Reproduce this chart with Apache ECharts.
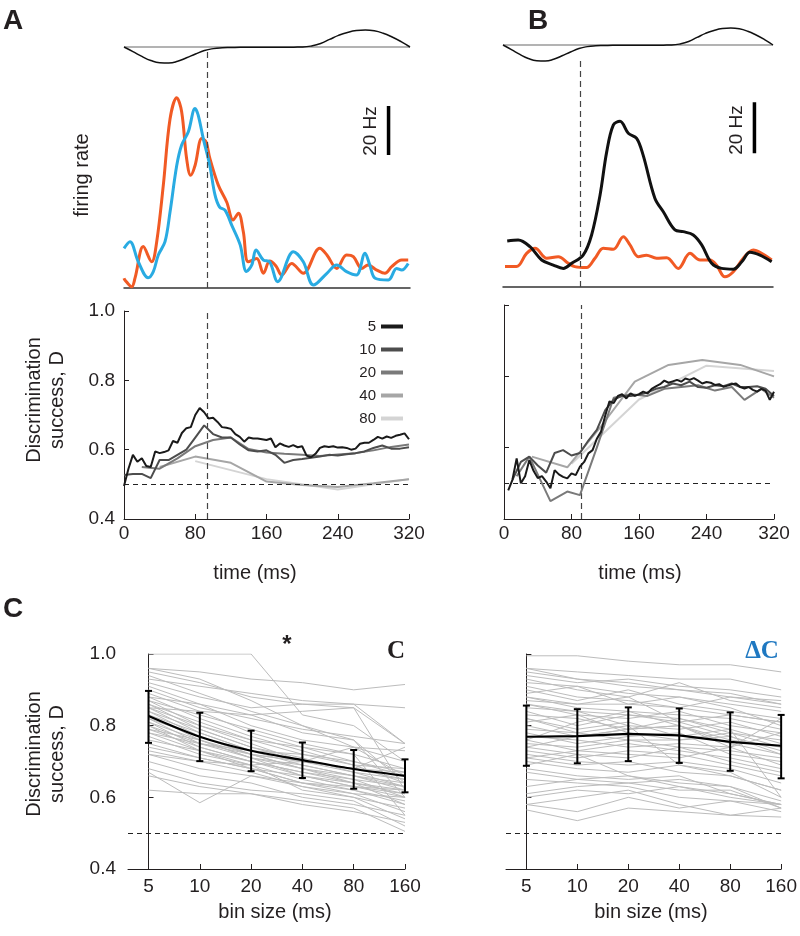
<!DOCTYPE html>
<html><head><meta charset="utf-8">
<script src="https://cdn.jsdelivr.net/npm/echarts@6/dist/echarts.min.js"></script>
<style>html,body{margin:0;padding:0;background:#fff}#c{width:800px;height:936px}</style>
</head><body><div id="c"></div>
<script>
const FONT = '"Liberation Sans", Arial, Helvetica, sans-serif';
const timeMin = 0, timeMax = 320, timeStep = 80;
const dMin = 0.4, dMax = 1.0, dStep = 0.2;
const chance = 0.5;
const onsetA = 93, onsetB = 92;

// stimulus (t every 10 ms, arbitrary units)
const stimT = [0,10,20,30,40,50,60,70,80,90,100,110,120,130,140,150,160,170,180,190,200,210,220,230,240,250,260,270,280,290,300,310,320];
const stimV = [0,-0.17,-0.35,-0.5,-0.58,-0.59,-0.53,-0.4,-0.26,-0.13,-0.06,-0.03,-0.02,-0.01,-0.01,-0.01,-0.01,-0.01,-0.01,-0.005,0,0.04,0.13,0.28,0.43,0.54,0.61,0.63,0.6,0.51,0.37,0.2,0];

// firing rates [time ms, Hz]
const aOrange = [[0,4],[1,3.3],[8.6,0.5],[12.3,4],[21.6,16.9],[31,10.7],[36.6,18.9],[44,42],[51.5,69],[59,77.7],[64.5,72],[70,53],[74.6,46],[79.5,50],[87,61],[91.8,59.7],[96,53],[105.5,42],[115,35],[122,27.8],[128,30.5],[133.5,23],[139,10.7],[148.5,12],[156,6],[163,11],[170,9],[176.5,5.3],[187.6,10],[200.6,6],[219,16.2],[227,13.5],[238,8],[249,13.5],[256.6,12.8],[266,8],[273,9.4],[282.8,7.3],[292,6],[299.5,8.7],[310.7,11.4],[318,11.4]];
const aBlue = [[0,16.2],[6.7,18.9],[16,10.7],[27,4.2],[32.8,6.7],[38.4,13.5],[45.9,18.9],[51.5,31],[59,50],[64.5,58.4],[72,63.8],[79.5,73.3],[83,70.6],[88.7,61],[96,50],[101.8,38],[107,33],[113,31.8],[120.5,25.7],[130,17.6],[137,6.7],[143,9.4],[147.7,15.5],[156,11.4],[163,10.7],[172,2.6],[189.5,14.8],[200.6,10.7],[212,1.2],[227,6],[238,9.4],[249,6.7],[260,5.3],[269.7,14.2],[275,9.4],[281,4],[295.8,3.3],[305,8],[310.7,7.3],[318,10]];
const bBlack = [[5,18],[18,18.4],[32,15.8],[45.8,10.6],[59.6,8.6],[71.5,7.3],[81.4,9.3],[95,12.5],[105,20.4],[115,36],[122.9,53],[130.7,63.5],[138.7,65],[148.5,60.3],[158.4,58.3],[166,51.8],[180,34.8],[190,29.5],[203.8,22.4],[213.7,21.7],[225.5,20.4],[235.5,16.5],[247.3,9.3],[259,7.3],[273,7],[283,9.9],[292.7,13.6],[304.6,12.5],[318.4,9.9]];
const bOrange = [[2.4,8],[16,8],[28,13.2],[38,15.2],[51.8,11.3],[65.5,11.9],[77.4,9.3],[85,8],[99,7.6],[109,11.3],[118.9,15.2],[130.7,14.8],[142.6,19.7],[150.5,16.5],[160.4,11.9],[170,12.5],[182,11.3],[194,11.5],[207.8,7.3],[221.6,13.2],[233.5,10.6],[245.3,10.6],[253,8.6],[263,4],[273,6],[284.8,11.3],[296.6,14.5],[308.5,12.8],[318.4,10.6]];
const scaleBarA = [[296,54.3],[296,74.3]];
const scaleBarB = [[298,52.5],[298,72.5]];

// discrimination success vs time, per bin size
const binNames = ['5','10','20','40','80'];
const aD5 = [0.495,0.545,0.585,0.565,0.575,0.553,0.55,0.595,0.59,0.593,0.598,0.625,0.62,0.648,0.662,0.665,0.70,0.72,0.708,0.69,0.692,0.68,0.665,0.663,0.66,0.645,0.637,0.623,0.635,0.632,0.632,0.63,0.628,0.632,0.607,0.618,0.612,0.608,0.613,0.607,0.61,0.583,0.578,0.588,0.605,0.61,0.608,0.61,0.606,0.607,0.605,0.6,0.603,0.617,0.62,0.62,0.628,0.637,0.632,0.638,0.634,0.64,0.643,0.647,0.63];
const aD10 = [0.527,0.53,0.53,0.518,0.57,0.57,0.585,0.60,0.635,0.67,0.645,0.635,0.635,0.615,0.598,0.595,0.598,0.585,0.562,0.57,0.573,0.577,0.58,0.585,0.583,0.587,0.59,0.595,0.605,0.612,0.603,0.603,0.607];
const aD20 = [[20,0.55],[40,0.545],[60,0.575],[80,0.61],[100,0.628],[120,0.635],[140,0.602],[160,0.592],[180,0.588],[200,0.585],[220,0.582],[240,0.586],[260,0.59],[280,0.598],[300,0.608],[320,0.615]];
const aD40 = [[40,0.55],[80,0.58],[120,0.562],[160,0.508],[200,0.498],[240,0.492],[280,0.503],[320,0.515]];
const aD80 = [[80,0.567],[160,0.515],[240,0.485],[320,0.515]];
const bD5 = [0.48,0.51,0.57,0.50,0.52,0.565,0.535,0.515,0.52,0.505,0.486,0.537,0.525,0.518,0.514,0.528,0.523,0.547,0.56,0.584,0.593,0.625,0.645,0.69,0.73,0.725,0.745,0.75,0.738,0.752,0.745,0.75,0.757,0.752,0.765,0.772,0.778,0.788,0.782,0.786,0.79,0.785,0.794,0.79,0.795,0.788,0.78,0.784,0.782,0.776,0.778,0.771,0.774,0.778,0.78,0.77,0.766,0.77,0.762,0.757,0.765,0.76,0.734,0.757];
const bD10 = [0.51,0.56,0.575,0.55,0.53,0.585,0.593,0.578,0.585,0.62,0.65,0.705,0.735,0.745,0.745,0.748,0.755,0.765,0.77,0.78,0.775,0.785,0.77,0.768,0.775,0.772,0.78,0.77,0.77,0.772,0.765,0.745];
const bD20 = [[15,0.52],[30,0.575],[55,0.45],[75,0.477],[90,0.467],[110,0.6],[130,0.74],[150,0.75],[170,0.745],[190,0.765],[210,0.77],[230,0.775],[250,0.76],[270,0.77],[285,0.734],[305,0.765],[320,0.74]];
const bD40 = [[33,0.575],[75,0.545],[115,0.66],[155,0.785],[195,0.832],[235,0.846],[280,0.832],[320,0.80]];
const bD80 = [[80,0.555],[160,0.735],[240,0.83],[320,0.815]];
const binColors = ['#1a1a1a','#4d4d4d','#7a7a7a','#a6a6a6','#d4d4d4'];

// panel C: D vs bin size
const binLabels = ['5','10','20','40','80','160'];
const cMean = [0.827,0.769,0.73,0.704,0.679,0.66];
const cLo   = [0.752,0.701,0.673,0.654,0.624,0.614];
const cHi   = [0.897,0.836,0.786,0.753,0.732,0.706];
const dcMean = [0.769,0.771,0.777,0.773,0.755,0.744];
const dcLo   = [0.688,0.695,0.701,0.696,0.674,0.653];
const dcHi   = [0.856,0.846,0.851,0.848,0.837,0.83];
const cLines = [
[1.00,1.00,1.00,0.83,0.80,0.70],[0.96,0.95,0.93,0.92,0.90,0.915],[0.96,0.93,0.87,0.80,0.74,0.66],[0.95,0.92,0.88,0.86,0.86,0.75],
[0.94,0.89,0.84,0.80,0.76,0.64],[0.93,0.91,0.89,0.87,0.86,0.85],[0.92,0.88,0.85,0.86,0.85,0.62],[0.91,0.86,0.80,0.76,0.74,0.70],
[0.90,0.85,0.82,0.79,0.77,0.75],[0.89,0.84,0.78,0.74,0.70,0.66],[0.88,0.82,0.77,0.73,0.69,0.64],[0.88,0.86,0.83,0.78,0.76,0.60],
[0.87,0.80,0.76,0.74,0.72,0.68],[0.87,0.83,0.79,0.75,0.72,0.55],[0.86,0.79,0.74,0.71,0.67,0.63],[0.86,0.81,0.76,0.72,0.70,0.67],
[0.85,0.80,0.75,0.70,0.68,0.65],[0.85,0.78,0.73,0.69,0.66,0.62],[0.84,0.79,0.74,0.70,0.68,0.74],[0.84,0.77,0.72,0.68,0.65,0.60],
[0.83,0.78,0.73,0.70,0.67,0.65],[0.83,0.76,0.71,0.69,0.66,0.63],[0.82,0.77,0.72,0.70,0.68,0.66],[0.82,0.75,0.72,0.68,0.64,0.58],
[0.81,0.76,0.71,0.66,0.63,0.61],[0.81,0.74,0.70,0.67,0.64,0.62],[0.80,0.75,0.71,0.68,0.66,0.64],[0.80,0.73,0.69,0.65,0.62,0.58],
[0.79,0.76,0.72,0.70,0.68,0.67],[0.79,0.74,0.70,0.66,0.63,0.60],[0.78,0.73,0.68,0.64,0.61,0.56],[0.78,0.75,0.73,0.72,0.69,0.68],
[0.77,0.72,0.69,0.62,0.60,0.54],[0.76,0.73,0.70,0.67,0.65,0.63],[0.75,0.71,0.68,0.66,0.64,0.61],[0.74,0.71,0.68,0.64,0.62,0.59],
[0.73,0.70,0.67,0.63,0.60,0.57],[0.72,0.68,0.66,0.64,0.63,0.62],[0.70,0.66,0.64,0.60,0.58,0.55],[0.68,0.64,0.62,0.61,0.59,0.52],
[0.67,0.585,0.66,0.63,0.61,0.60],[0.66,0.63,0.61,0.58,0.56,0.53],[0.62,0.61,0.61,0.59,0.57,0.505],[0.72,0.70,0.69,0.70,0.74,0.73],
[0.85,0.84,0.83,0.84,0.85,0.75]];
const dcLines = [
[0.995,0.995,0.98,0.97,0.97,0.95],[0.96,0.95,0.94,0.93,0.93,0.90],[0.95,0.93,0.91,0.90,0.88,0.87],[0.94,0.92,0.93,0.91,0.90,0.88],
[0.93,0.90,0.88,0.92,0.87,0.85],[0.92,0.91,0.89,0.88,0.86,0.84],[0.91,0.88,0.87,0.85,0.88,0.86],[0.90,0.87,0.90,0.86,0.84,0.82],
[0.89,0.91,0.86,0.88,0.85,0.80],[0.88,0.85,0.84,0.83,0.82,0.79],[0.87,0.86,0.88,0.81,0.83,0.81],[0.86,0.83,0.82,0.84,0.80,0.78],
[0.85,0.84,0.80,0.79,0.81,0.77],[0.84,0.80,0.83,0.82,0.78,0.76],[0.83,0.82,0.79,0.80,0.76,0.74],[0.82,0.79,0.81,0.77,0.79,0.75],
[0.81,0.83,0.78,0.76,0.77,0.73],[0.80,0.77,0.79,0.80,0.75,0.72],[0.79,0.78,0.76,0.74,0.73,0.71],[0.78,0.75,0.77,0.78,0.72,0.70],
[0.77,0.76,0.74,0.75,0.74,0.69],[0.76,0.73,0.75,0.73,0.71,0.68],[0.75,0.74,0.76,0.76,0.78,0.74],[0.74,0.72,0.71,0.74,0.70,0.67],
[0.73,0.71,0.73,0.72,0.69,0.66],[0.72,0.70,0.69,0.70,0.68,0.64],[0.71,0.69,0.70,0.67,0.66,0.62],[0.70,0.68,0.67,0.69,0.67,0.60],
[0.69,0.72,0.66,0.64,0.63,0.59],[0.68,0.66,0.65,0.66,0.61,0.58],[0.67,0.65,0.64,0.62,0.62,0.57],[0.65,0.64,0.63,0.60,0.59,0.58],
[0.63,0.65,0.66,0.63,0.61,0.58],[0.61,0.63,0.64,0.65,0.63,0.57],[0.60,0.62,0.61,0.63,0.60,0.58],[0.58,0.56,0.60,0.57,0.59,0.56],
[0.58,0.60,0.62,0.58,0.55,0.57],[0.76,0.81,0.84,0.80,0.74,0.82],[0.82,0.78,0.80,0.69,0.66,0.62],[0.86,0.84,0.83,0.81,0.77,0.72],
[0.74,0.77,0.79,0.82,0.79,0.60],[0.88,0.86,0.86,0.85,0.83,0.81],[0.71,0.73,0.72,0.71,0.74,0.78],[0.96,0.93,0.92,0.90,0.89,0.86],
[0.565,0.535,0.57,0.56,0.55,0.545]];

// ---------- layout ----------
const grids = [
  {left:124, top:20, width:286, height:54},    // 0 A stimulus
  {left:503, top:18, width:270, height:54},    // 1 B stimulus
  {left:124, top:48, width:286, height:240},   // 2 A firing
  {left:503, top:57.5, width:270, height:229.5}, // 3 B firing
  {left:124, top:311, width:285, height:208},  // 4 A D(t)
  {left:504, top:305, width:270, height:214},  // 5 B D(t)
  {left:128, top:654, width:277, height:215},  // 6 C left
  {left:506, top:654, width:277, height:215}   // 7 C right
];
const AX = '#231f20';
const hiddenX = (gi) => ({gridIndex:gi, type:'value', min:timeMin, max:timeMax, show:false});
const xAxes = [
  hiddenX(0), hiddenX(1),
  {gridIndex:2, type:'value', min:timeMin, max:timeMax, axisLine:{lineStyle:{color:'#333', width:1.5}}, axisTick:{show:false}, axisLabel:{show:false}, splitLine:{show:false}},
  {gridIndex:3, type:'value', min:timeMin, max:timeMax, axisLine:{lineStyle:{color:'#333', width:1.5}}, axisTick:{show:false}, axisLabel:{show:false}, splitLine:{show:false}},
];
for (const gi of [4,5]) xAxes.push({gridIndex:gi, type:'value', min:timeMin, max:timeMax, interval:timeStep,
  axisLine:{lineStyle:{color:AX, width:1}}, axisTick:{inside:true, length:5, lineStyle:{color:AX}},
  axisLabel:{fontSize:19, color:AX, fontFamily:FONT, margin:5}, splitLine:{show:false}});
for (const gi of [6,7]) xAxes.push({gridIndex:gi, type:'value', min:-0.4, max:5,
  axisLine:{lineStyle:{color:AX, width:1}},
  axisTick:{inside:true, length:5, lineStyle:{color:AX}, customValues:[0,1,2,3,4,5]},
  axisLabel:{fontSize:19, color:AX, fontFamily:FONT, margin:8, customValues:[0,1,2,3,4,5], formatter:(v)=>binLabels[Math.round(v)]},
  splitLine:{show:false}});
const yAxes = [
  {gridIndex:0, type:'value', min:-1, max:1, show:false},
  {gridIndex:1, type:'value', min:-1, max:1, show:false},
  {gridIndex:2, type:'value', min:0, max:98, show:false},
  {gridIndex:3, type:'value', min:0, max:90, show:false},
];
for (const gi of [4,5,6,7]) yAxes.push({gridIndex:gi, type:'value', min:dMin, max:dMax, interval:dStep,
  axisLine:{show:true, lineStyle:{color:AX, width:1}}, axisTick:{show:true, inside:true, length:5, lineStyle:{color:AX}},
  axisLabel:{show: gi===4 || gi===6, fontSize:19, color:AX, fontFamily:FONT, margin: gi>=6 ? 12 : 9, formatter:(v)=>v.toFixed(1)},
  splitLine:{show:false}});

const series = [];
function ln(gi, data, color, width, extra) {
  const s = {type:'line', xAxisIndex:gi, yAxisIndex:gi, data, symbol:'none', silent:true,
    color, lineStyle:{color, width}, itemStyle:{color}, emphasis:{disabled:true}};
  return Object.assign(s, extra || {});
}
const vDash = (t) => ({silent:true, symbol:'none', label:{show:false}, lineStyle:{type:[6,4], color:'#444', width:1.2}, data:[{xAxis:t}]});
const hDash = {silent:true, symbol:'none', label:{show:false}, lineStyle:{type:[5,4], color:'#222', width:1.2}, data:[{yAxis:chance}]};
function hvDash(t){ return {silent:true, symbol:'none', label:{show:false}, data:[
  {xAxis:t, lineStyle:{type:[6,4], color:'#444', width:1.2}},
  {yAxis:chance, lineStyle:{type:[5,4], color:'#222', width:1.2}}]}; }

// stimulus
const stimData = stimT.map((t,i)=>[t, stimV[i]]);
for (const gi of [0,1]) {
  series.push(ln(gi, [[timeMin,0],[timeMax,0]], '#9a9a9a', 1.5));
  series.push(ln(gi, stimData, '#111', 1.5, {smooth:0.5}));
}
// firing
series.push(ln(2, aOrange, '#f15a24', 3, {smooth:0.35, markLine: vDash(onsetA)}));
series.push(ln(2, aBlue, '#29abe2', 3, {smooth:0.35}));
series.push(ln(2, scaleBarA, '#000', 3.5));
series.push(ln(3, bOrange, '#f15a24', 3, {smooth:0.35, markLine: vDash(onsetB)}));
series.push(ln(3, bBlack, '#111', 3, {smooth:0.35}));
series.push(ln(3, scaleBarB, '#000', 3.5));

// D(t)
const aSets = [aD5.map((v,i)=>[i*5, v]), aD10.map((v,i)=>[i*10, v]), aD20, aD40, aD80];
const bSets = [bD5.map((v,i)=>[(i+1)*5, v]), bD10.map((v,i)=>[(i+1)*10, v]), bD20, bD40, bD80];
for (let k=4; k>=0; k--) {
  series.push(ln(4, aSets[k], binColors[k], 2, {name:binNames[k], z: 3+(4-k)}));
  series.push(ln(5, bSets[k], binColors[k], 2, {name:binNames[k], z: 3+(4-k)}));
}
series[series.length-1].markLine = hvDash(onsetB);
series[series.length-2].markLine = hvDash(onsetA);

// panel C
function errSeries(gi, lo, hi) {
  return {type:'custom', xAxisIndex:gi, yAxisIndex:gi, silent:true, z:6,
    data: lo.map((v,i)=>[i, v, hi[i]]), encode:{x:0, y:[1,2]},
    renderItem:(params, api) => {
      const x = api.value(0);
      const a = api.coord([x, api.value(1)]);
      const b = api.coord([x, api.value(2)]);
      const w = 3.5, st = {stroke:'#000', lineWidth:2};
      return {type:'group', children:[
        {type:'line', shape:{x1:a[0],y1:a[1],x2:b[0],y2:b[1]}, style:st},
        {type:'line', shape:{x1:a[0]-w,y1:a[1],x2:a[0]+w,y2:a[1]}, style:st},
        {type:'line', shape:{x1:b[0]-w,y1:b[1],x2:b[0]+w,y2:b[1]}, style:st}]};
    }};
}
cLines.forEach((arr,j)=>series.push(ln(6, arr.map((v,i)=>[i,v]), '#bcbcbc', 1, j===0?{markLine:hDash}:{})));
dcLines.forEach((arr,j)=>series.push(ln(7, arr.map((v,i)=>[i,v]), '#bcbcbc', 1, j===0?{markLine:hDash}:{})));
series.push(ln(6, cMean.map((v,i)=>[i,v]), '#000', 2.2, {z:5, smooth:0.25}));
series.push(ln(7, dcMean.map((v,i)=>[i,v]), '#000', 2.2, {z:5}));
series.push(errSeries(6, cLo, cHi));
series.push(errSeries(7, dcLo, dcHi));

const T = (txt, x, y, font, extra) => Object.assign({type:'text', x, y, silent:true,
  style:Object.assign({text:txt, font, fill:'#231f20', textAlign:'center', textVerticalAlign:'middle', align:'center', verticalAlign:'middle'}, (extra&&extra.style)||{})},
  extra ? {rotation: extra.rotation||0} : {});
const titleFont = '20px ' + FONT;
const graphic = [
  T('A', 13, 21, 'bold 28px ' + FONT),
  T('B', 538, 21, 'bold 28px ' + FONT),
  T('C', 13, 609, 'bold 28px ' + FONT),
  T('firing rate', 82, 175, titleFont, {rotation:Math.PI/2}),
  T('Discrimination\nsuccess, D', 46, 400, titleFont, {rotation:Math.PI/2, style:{lineHeight:23}}),
  T('Discrimination\nsuccess, D', 46, 754, titleFont, {rotation:Math.PI/2, style:{lineHeight:23}}),
  T('20 Hz', 371, 131, '19px ' + FONT, {rotation:Math.PI/2}),
  T('20 Hz', 737, 130, '19px ' + FONT, {rotation:Math.PI/2}),
  T('time (ms)', 255, 573, titleFont),
  T('time (ms)', 640, 573, titleFont),
  T('bin size (ms)', 275, 912, titleFont),
  T('bin size (ms)', 651, 912, titleFont),
  T('*', 287, 645, 'bold 24px ' + FONT),
  T('C', 396, 652, 'bold 25px "Liberation Serif", "Times New Roman", serif'),
  T('ΔC', 762, 652, 'bold 25px "Liberation Serif", "Times New Roman", serif', {style:{fill:'#1f78c1'}})
];

const chart = echarts.init(document.getElementById('c'), null, {renderer:'canvas'});
chart.setOption({
  animation:false,
  backgroundColor:'#fff',
  grid: grids,
  xAxis: xAxes,
  yAxis: yAxes,
  legend: {data: binNames, orient:'vertical', right:392, top:314, align:'right', icon:'rect',
    itemWidth:22, itemHeight:4, itemGap:8, selectedMode:false,
    textStyle:{fontSize:15, color:'#231f20', fontFamily:FONT}},
  graphic,
  series
});
</script></body></html>
